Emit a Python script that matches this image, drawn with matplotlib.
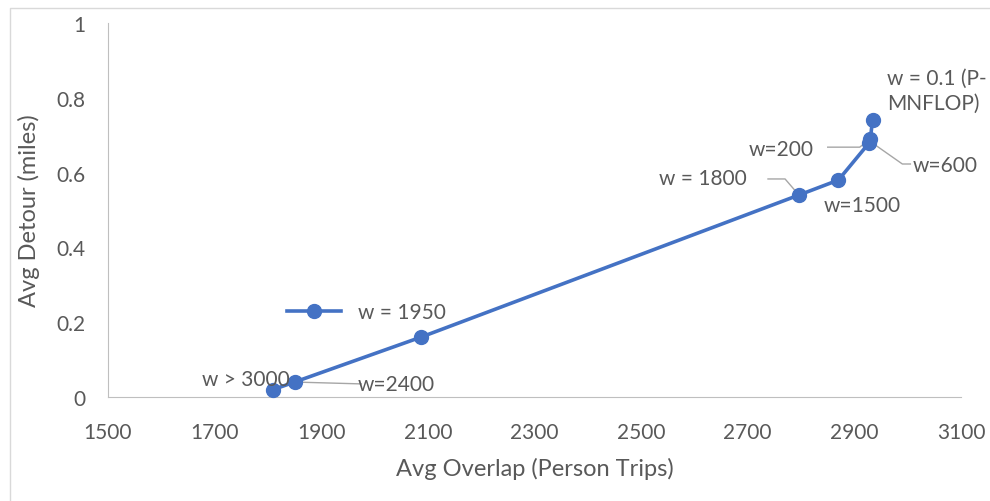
import matplotlib.pyplot as plt
from matplotlib.lines import Line2D

# weight settings, avg overlap (person trips), avg detour (miles)
w_labels = ["w > 3000", "w=2400", "w = 1950", "w = 1800", "w=1500", "w=600", "w=200", "w = 0.1 (P-\nMNFLOP)"]
overlap = [1810, 1850, 2087, 2796, 2870, 2928, 2930, 2934]
detour = [0.02, 0.04, 0.16, 0.54, 0.58, 0.68, 0.69, 0.74]

x_ticks = [1500, 1700, 1900, 2100, 2300, 2500, 2700, 2900, 3100]
y_ticks = [0, 0.2, 0.4, 0.6, 0.8, 1]

blue = "#4472C4"
grey_text = "#595959"
leader = "#A6A6A6"

plt.rcParams["font.family"] = ["Lato", "DejaVu Sans"]

fig = plt.figure(figsize=(9.9, 5.02), dpi=100)
# chart frame, only the left and top edges fall inside the image
fig.lines.append(Line2D([10 / 990, 10 / 990, 1], [0, 1 - 9 / 502, 1 - 9 / 502],
                        transform=fig.transFigure, color="#D9D9D9", linewidth=1))
ax = fig.add_axes([108 / 990, 1 - 398 / 502, (961 - 108) / 990, (398 - 24) / 502])

ax.plot(overlap, detour, color=blue, linewidth=2.6, marker="o", markersize=10,
        label="w = 1950", zorder=3, clip_on=False)

ax.set_xlim(1500, 3100)
ax.set_ylim(0, 1)
ax.set_xticks(x_ticks)
ax.set_yticks(y_ticks)
ax.set_yticklabels([f"{v:g}" for v in y_ticks])
ax.tick_params(length=0, labelsize=15, colors=grey_text)
ax.tick_params(axis="x", pad=18)
ax.tick_params(axis="y", pad=16)
for side in ["top", "right"]:
    ax.spines[side].set_visible(False)
for side in ["left", "bottom"]:
    ax.spines[side].set_color("#BFBFBF")
ax.set_xlabel("Avg Overlap (Person Trips)", fontsize=17, color=grey_text, labelpad=11)
ax.set_ylabel("Avg Detour (miles)", fontsize=17, color=grey_text, labelpad=12)

fs = 15
# data labels with leader lines
ax.text(1758, 0.048, w_labels[0], fontsize=fs, color=grey_text, ha="center", va="center")

ax.plot([overlap[1], 1975], [detour[1], 0.035], color=leader, linewidth=1)
ax.text(2040, 0.035, w_labels[1], fontsize=fs, color=grey_text, ha="center", va="center")

ax.plot([overlap[3], 2770, 2738], [detour[3], 0.583, 0.583], color=leader, linewidth=1)
ax.text(2615, 0.585, w_labels[3], fontsize=fs, color=grey_text, ha="center", va="center")

ax.text(2915, 0.513, w_labels[4], fontsize=fs, color=grey_text, ha="center", va="center")

ax.plot([overlap[6], 2910, 2850], [detour[6], 0.668, 0.668], color=leader, linewidth=1)
ax.text(2763, 0.663, w_labels[6], fontsize=fs, color=grey_text, ha="center", va="center")

ax.plot([overlap[5], 2990, 3005], [detour[5] + 0.005, 0.623, 0.623], color=leader, linewidth=1)
ax.text(3070, 0.62, w_labels[5], fontsize=fs, color=grey_text, ha="center", va="center")

ax.text(2962, 0.82, w_labels[7], fontsize=fs, color=grey_text, ha="left", va="center",
        linespacing=1.3)

ax.legend(loc="upper left", bbox_to_anchor=(0.188, 0.303), frameon=False,
          fontsize=fs, labelcolor=grey_text, handlelength=2.6)

fig.savefig("out.png", dpi=100)
